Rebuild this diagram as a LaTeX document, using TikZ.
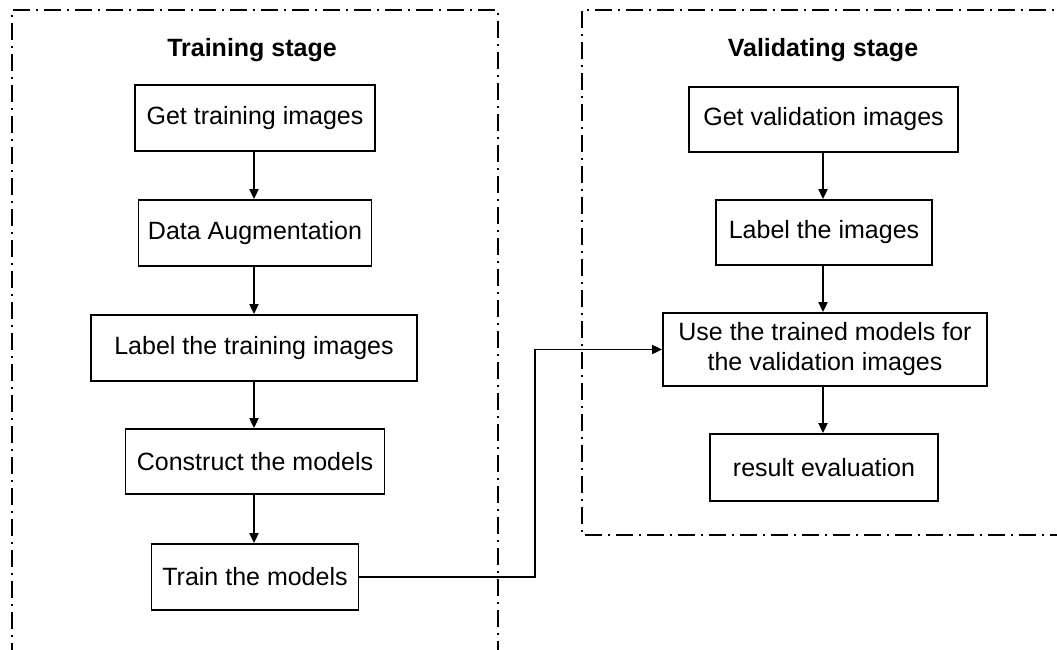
\documentclass[tikz,border=0pt]{standalone}
\usepackage{fontspec}
\setmainfont{Liberation Sans}
\usetikzlibrary{arrows.meta}
\tikzset{
  stepbox/.style={draw=black, line width=1.8pt, align=center, inner sep=0pt,
    font=\fontsize{25}{30}\selectfont},
  stagetitle/.style={font=\fontsize{25}{30}\selectfont\bfseries, inner sep=0pt},
  frame/.style={line width=1.8pt, dash pattern=on 17pt off 6pt on 2pt off 6pt},
  flow/.style={line width=1.8pt, -{Triangle[length=10pt,width=9pt]}},
}
\begin{document}
\begin{tikzpicture}[x=1pt,y=-1pt]
\useasboundingbox[fill=white] (0,0) rectangle (1057,650);
% frames
\draw[frame] (12,660) -- (12,10) -- (498,10) -- (498,660);
\draw[frame] (1067,535) -- (582,535) -- (582,10) -- (1067,10);
% titles
\node[stagetitle] (ttl1) at (252,50) {Training stage};
\node[stagetitle] (ttl2) at (823,50) {Validating stage};
% training boxes
\node[stepbox, minimum width=240pt, minimum height=66pt] (t1) at (255,118) {Get training images};
\node[stepbox, minimum width=233pt, minimum height=66pt] (t2) at (255,233) {Data Augmentation};
\node[stepbox, minimum width=326pt, minimum height=66pt] (t3) at (254,348) {Label the training images};
\node[stepbox, minimum width=259pt, minimum height=65pt] (t4) at (255,461.5) {Construct the models};
\node[stepbox, minimum width=207pt, minimum height=66pt] (t5) at (255,577) {Train the models};
% validation boxes
\node[stepbox, minimum width=269pt, minimum height=65pt] (v1) at (823.5,119.5) {Get validation images};
\node[stepbox, minimum width=216pt, minimum height=65pt] (v2) at (824,232.5) {Label the images};
\node[stepbox, minimum width=324pt, minimum height=73pt] (v3) at (825,349.5) {Use the trained models for\\the validation images};
\node[stepbox, minimum width=228pt, minimum height=67pt] (v4) at (824,467.5) {result evaluation};
% connectors
\draw[flow] (t1.south -| 254,0) -- (t2.north -| 254,0);
\draw[flow] (t2.south -| 254,0) -- (t3.north -| 254,0);
\draw[flow] (t3.south -| 254,0) -- (t4.north -| 254,0);
\draw[flow] (t4.south -| 254,0) -- (t5.north -| 254,0);
\draw[flow] (v1.south -| 823,0) -- (v2.north -| 823,0);
\draw[flow] (v2.south -| 823,0) -- (v3.north -| 823,0);
\draw[flow] (v3.south -| 823,0) -- (v4.north -| 823,0);
\coordinate (bend) at (535,577);
\draw[flow] (t5.east) -- (bend) |- (v3.west);
\end{tikzpicture}
\end{document}
